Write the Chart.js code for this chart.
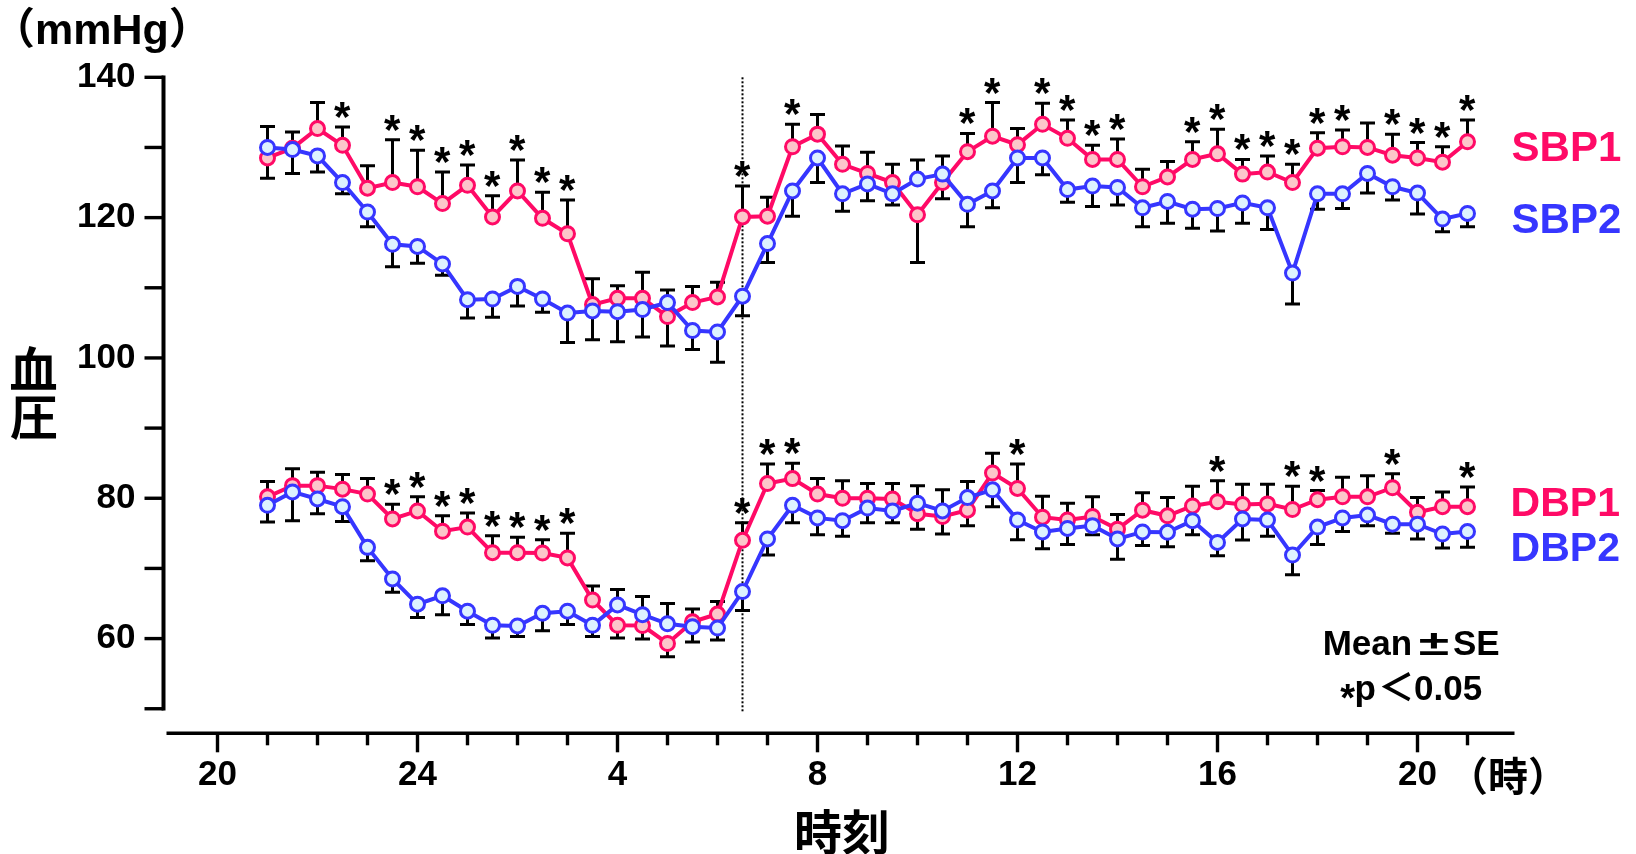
<!DOCTYPE html>
<html>
<head>
<meta charset="utf-8">
<script src="https://cdn.jsdelivr.net/npm/chart.js@4.4.0/dist/chart.umd.min.js"></script>
<style>
  html, body { margin: 0; padding: 0; background: #ffffff; }
  #wrap { width: 1636px; height: 854px; }
</style>
</head>
<body>
<div id="wrap"><canvas id="bp" width="1636" height="854"></canvas></div>
<script>
// Measurement times in hours (21 = 21:00 on day 1, 45 = 21:00 on day 2), every 30 minutes
const timePoints = [21, 21.5, 22, 22.5, 23, 23.5, 24, 24.5, 25, 25.5, 26, 26.5, 27, 27.5, 28, 28.5,
  29, 29.5, 30, 30.5, 31, 31.5, 32, 32.5, 33, 33.5, 34, 34.5, 35, 35.5, 36, 36.5,
  37, 37.5, 38, 38.5, 39, 39.5, 40, 40.5, 41, 41.5, 42, 42.5, 43, 43.5, 44, 44.5, 45];

// Systolic blood pressure (mmHg), mean and SE
const sbp1 = [128.5, 129.9, 132.7, 130.3, 124.2, 125.0, 124.4, 122.0, 124.6, 120.1, 123.8, 119.9, 117.7, 107.6, 108.5, 108.5,
  105.9, 107.9, 108.7, 120.1, 120.2, 130.1, 131.9, 127.6, 126.3, 125.0, 120.4, 125.0, 129.4, 131.6, 130.4, 133.3,
  131.3, 128.3, 128.3, 124.4, 125.8, 128.3, 129.1, 126.2, 126.5, 125.0, 129.9, 130.1, 130.0, 128.9, 128.5, 127.9, 130.8];
const sbp1Se = [2.9, 2.3, 3.7, 2.6, 3.2, 6.1, 5.2, 4.5, 2.9, 3.0, 4.4, 3.7, 4.8, 3.7, 1.8, 3.7,
  4.2, 2.3, 2.1, 4.4, 2.7, 3.2, 2.8, 2.6, 3.0, 2.6, 6.8, 2.3, 2.6, 4.8, 2.3, 3.0,
  2.6, 2.0, 2.9, 2.5, 2.2, 2.5, 3.5, 2.1, 2.3, 2.6, 2.2, 2.4, 3.5, 3.0, 2.2, 2.2, 3.1];
const sbp2 = [130.0, 129.7, 128.8, 125.0, 120.8, 116.2, 115.9, 113.4, 108.3, 108.4, 110.2, 108.4, 106.4, 106.7, 106.6, 106.9,
  107.9, 103.9, 103.7, 108.8, 116.3, 123.8, 128.5, 123.4, 124.8, 123.4, 125.5, 126.2, 121.9, 123.8, 128.5, 128.5,
  124.0, 124.5, 124.3, 121.4, 122.3, 121.2, 121.3, 122.1, 121.4, 112.1, 123.4, 123.4, 126.3, 124.4, 123.5, 119.8, 120.6];
const sbp2Se = [3.0, 3.4, 2.3, 1.6, 2.1, 3.2, 2.4, 1.6, 2.6, 2.6, 2.8, 1.9, 4.2, 4.1, 4.3, 3.9,
  1.8, 2.7, 4.3, 2.8, 2.7, 3.6, 3.5, 2.5, 2.4, 1.6, 2.7, 2.6, 3.2, 2.4, 3.5, 2.4,
  1.8, 2.9, 2.5, 2.7, 3.1, 2.7, 3.2, 2.9, 3.1, 4.4, 2.2, 2.1, 2.8, 1.9, 3.0, 1.8, 1.9];

// Diastolic blood pressure (mmHg), mean and SE
const dbp1 = [80.2, 81.8, 81.8, 81.3, 80.6, 77.05, 78.2, 75.3, 75.9, 72.25, 72.25, 72.2, 71.5, 65.5, 61.9, 61.85,
  59.3, 62.4, 63.5, 74.0, 82.1, 82.8, 80.6, 80.0, 80.0, 79.9, 77.8, 77.4, 78.3, 83.6, 81.4, 77.3,
  76.9, 77.4, 75.6, 78.3, 77.5, 78.9, 79.5, 79.1, 79.2, 78.4, 79.8, 80.2, 80.2, 81.5, 78.0, 78.8, 78.8];
const dbp1Se = [2.2, 2.4, 1.9, 2.1, 2.2, 2.1, 2.0, 2.2, 2.0, 2.4, 2.2, 1.9, 3.5, 2.0, 1.8, 1.9,
  1.9, 1.8, 1.8, 2.5, 2.8, 2.2, 2.2, 2.5, 2.1, 2.2, 2.2, 2.5, 2.2, 2.8, 3.5, 3.0,
  2.4, 2.8, 2.1, 2.5, 2.6, 2.8, 3.0, 2.9, 2.8, 3.3, 1.3, 2.8, 3.0, 2.0, 2.1, 2.1, 2.8];
const dbp2 = [79.0, 80.9, 79.9, 78.8, 73.0, 68.5, 64.9, 66.1, 63.9, 61.9, 61.8, 63.6, 63.9, 61.9, 64.8, 63.4,
  62.1, 61.7, 61.5, 66.7, 74.2, 79.0, 77.2, 76.8, 78.6, 78.2, 79.3, 78.2, 80.1, 81.2, 76.9, 75.2,
  75.7, 76.1, 74.2, 75.2, 75.15, 76.8, 73.7, 77.05, 76.9, 71.9, 75.9, 77.2, 77.6, 76.3, 76.3, 74.9, 75.25];
const dbp2Se = [2.4, 4.1, 2.1, 2.1, 1.9, 1.9, 1.9, 2.7, 1.9, 1.8, 1.5, 2.5, 1.9, 1.6, 2.2, 2.6,
  2.9, 2.2, 1.7, 2.7, 2.3, 2.5, 2.4, 2.2, 2.1, 1.7, 2.5, 3.0, 2.3, 2.4, 2.8, 2.4,
  2.3, 1.3, 2.9, 1.95, 2.05, 2.0, 1.9, 3.0, 2.3, 2.8, 2.5, 1.95, 1.5, 1.3, 2.1, 2.0, 2.25];

// Times with a significant difference (p < 0.05)
const sbpSigTimes = [22.5, 23.5, 24, 24.5, 25, 25.5, 26, 26.5, 27, 30.5, 31.5, 35, 35.5, 36.5, 37, 37.5,
  38, 39.5, 40, 40.5, 41, 41.5, 42, 42.5, 43.5, 44, 44.5, 45];
const dbpSigTimes = [23.5, 24, 24.5, 25, 25.5, 26, 26.5, 27, 30.5, 31, 31.5, 36, 40, 41.5, 42, 43.5, 45];

// Axis ticks
const xTickValues = [20, 24, 28, 32, 36, 40, 44];
const xTickLabels = ['20', '24', '4', '8', '12', '16', '20'];
const yTickValues = [60, 80, 100, 120, 140];
const yTickLabels = ['60', '80', '100', '120', '140'];
const wakeTime = 30.5;

const PINK = '#FF0A66';
const PINK_FILL = '#FCC6CA';
const BLUE = '#3636FF';
const BLUE_FILL = '#DDF2FF';
const LATIN = "'Liberation Sans', Arial, sans-serif";
const CJK = "'Noto Sans CJK JP', sans-serif";
const MIXED = "'Liberation Sans', 'Noto Sans CJK JP', sans-serif";

function toPoints(values) {
  return values.map((v, i) => ({ x: timePoints[i], y: v }));
}

function lineSet(label, values, color, fill, order) {
  return {
    label, data: toPoints(values), order,
    borderColor: color, borderWidth: 4,
    pointRadius: 7, pointBorderWidth: 3,
    pointBackgroundColor: fill, pointBorderColor: color,
    tension: 0, fill: false
  };
}

// Draw text so that its ink box is aligned at x and vertically centred on cy
function inkText(ctx, text, font, color, x, cy, align) {
  ctx.save();
  ctx.font = font; ctx.fillStyle = color;
  ctx.textAlign = 'left'; ctx.textBaseline = 'alphabetic';
  const m = ctx.measureText(text);
  const w = m.actualBoundingBoxLeft + m.actualBoundingBoxRight;
  let left = x;
  if (align === 'center') left = x - w / 2;
  else if (align === 'right') left = x - w;
  ctx.fillText(text, left + m.actualBoundingBoxLeft, cy + (m.actualBoundingBoxAscent - m.actualBoundingBoxDescent) / 2);
  ctx.restore();
}

// Draw text on a given baseline with its ink starting at x
function baseText(ctx, text, font, color, x, baseline) {
  ctx.save();
  ctx.font = font; ctx.fillStyle = color;
  ctx.textAlign = 'left'; ctx.textBaseline = 'alphabetic';
  const m = ctx.measureText(text);
  ctx.fillText(text, x + m.actualBoundingBoxLeft, baseline);
  ctx.restore();
}

// Draw a glyph stretched to fill an ink box
function boxText(ctx, text, font, color, left, top, width, height) {
  ctx.save();
  ctx.font = font; ctx.fillStyle = color;
  ctx.textAlign = 'left'; ctx.textBaseline = 'alphabetic';
  const m = ctx.measureText(text);
  const w = m.actualBoundingBoxLeft + m.actualBoundingBoxRight;
  const h = m.actualBoundingBoxAscent + m.actualBoundingBoxDescent;
  ctx.translate(left, top);
  ctx.scale(width / w, height / h);
  ctx.fillText(text, m.actualBoundingBoxLeft, m.actualBoundingBoxAscent);
  ctx.restore();
}

// Axes, SE bars, significance marks and the wake-up line, drawn under the series
const underlayPlugin = {
  id: 'underlay',
  beforeDatasetsDraw(chart) {
    const ctx = chart.ctx;
    const xs = chart.scales.x, ys = chart.scales.y;
    const area = chart.chartArea;
    ctx.save();
    ctx.strokeStyle = '#000'; ctx.lineCap = 'butt';

    // y axis line and ticks
    const axisX = area.left - 4;
    ctx.lineWidth = 4;
    ctx.beginPath();
    ctx.moveTo(axisX, ys.getPixelForValue(140) - 1.7);
    ctx.lineTo(axisX, ys.getPixelForValue(50) + 1.7);
    ctx.stroke();
    ctx.lineWidth = 3.4;
    for (let v = 50; v <= 140; v += 10) {
      const y = ys.getPixelForValue(v);
      ctx.beginPath(); ctx.moveTo(axisX - 19, y); ctx.lineTo(axisX, y); ctx.stroke();
    }

    // x axis line and hourly ticks
    const axisY = area.bottom;
    ctx.lineWidth = 3.4;
    ctx.beginPath();
    ctx.moveTo(xs.getPixelForValue(19) - 1, axisY);
    ctx.lineTo(xs.getPixelForValue(46) - 3, axisY);
    ctx.stroke();
    for (let h = 20; h <= 45; h++) {
      const x = xs.getPixelForValue(h);
      const len = xTickValues.includes(h) ? 19 : 12;
      ctx.beginPath(); ctx.moveTo(x, axisY); ctx.lineTo(x, axisY + len); ctx.stroke();
    }

    // wake-up line
    ctx.lineWidth = 2;
    ctx.setLineDash([2, 2]);
    const wx = xs.getPixelForValue(wakeTime);
    ctx.beginPath();
    ctx.moveTo(wx, ys.getPixelForValue(140));
    ctx.lineTo(wx, ys.getPixelForValue(49.4));
    ctx.stroke();
    ctx.setLineDash([]);

    // SE bars: upper series points up, lower series points down
    const pairs = [
      [sbp1, sbp1Se, sbp2, sbp2Se, sbpSigTimes],
      [dbp1, dbp1Se, dbp2, dbp2Se, dbpSigTimes]
    ];
    ctx.lineWidth = 3;
    const bar = (x, from, to) => {
      const y0 = ys.getPixelForValue(from), y1 = ys.getPixelForValue(to);
      ctx.beginPath();
      ctx.moveTo(x, y0); ctx.lineTo(x, y1);
      ctx.moveTo(x - 7.5, y1); ctx.lineTo(x + 7.5, y1);
      ctx.stroke();
    };
    pairs.forEach(([a, aSe, b, bSe, sig]) => {
      timePoints.forEach((t, i) => {
        const x = xs.getPixelForValue(t);
        const aUp = a[i] >= b[i];
        if (aUp) { bar(x, a[i], a[i] + aSe[i]); bar(x, b[i], b[i] - bSe[i]); }
        else { bar(x, b[i], b[i] + bSe[i]); bar(x, a[i], a[i] - aSe[i]); }
      });
      sig.forEach(t => {
        const i = timePoints.indexOf(t);
        const top = a[i] >= b[i] ? a[i] + aSe[i] : b[i] + bSe[i];
        const x = xs.getPixelForValue(t);
        inkText(ctx, '*', 'bold 42px ' + LATIN, '#000', x, ys.getPixelForValue(top) - 17, 'center');
      });
    });
    ctx.restore();
  },
  afterDraw(chart) {
    const ctx = chart.ctx;
    // unit and axis titles
    ctx.save();
    ctx.font = 'bold 43px ' + MIXED;
    ctx.fillStyle = '#000';
    ctx.textBaseline = 'alphabetic';
    const unit = '（mmHg）';
    const um = ctx.measureText(unit);
    ctx.fillText(unit, 20 + um.actualBoundingBoxLeft, 44);
    ctx.restore();

    inkText(ctx, '血', 'bold 48px ' + CJK, '#000', 33.5, 368, 'center');
    inkText(ctx, '圧', 'bold 48px ' + CJK, '#000', 33.5, 418, 'center');
    inkText(ctx, '時刻', 'bold 48px ' + CJK, '#000', 842, 831, 'center');
    inkText(ctx, '（時）', 'bold 40px ' + CJK, '#000', 1508, 775, 'center');

    // series labels
    inkText(ctx, 'SBP1', 'bold 42px ' + LATIN, PINK, 1512.6, 146.7, 'left');
    inkText(ctx, 'SBP2', 'bold 42px ' + LATIN, BLUE, 1512.6, 218, 'left');
    inkText(ctx, 'DBP1', 'bold 41px ' + LATIN, PINK, 1512.6, 502, 'left');
    inkText(ctx, 'DBP2', 'bold 41px ' + LATIN, BLUE, 1512.6, 546.7, 'left');

    // notes
    const f35 = 'bold 35px ' + LATIN;
    baseText(ctx, 'Mean', f35, '#000', 1324.7, 655);
    boxText(ctx, '±', f35, '#000', 1418.7, 633.3, 30, 21.7);
    baseText(ctx, 'SE', f35, '#000', 1454, 655);
    inkText(ctx, '*', 'bold 38px ' + LATIN, '#000', 1347.7, 691, 'center');
    baseText(ctx, 'p', f35, '#000', 1356.6, 700);
    boxText(ctx, '＜', 'bold 35px ' + CJK, '#000', 1381.4, 671.7, 30, 30);
    baseText(ctx, '0.05', f35, '#000', 1415, 700);
  }
};

const tickFont = { family: 'Liberation Sans', size: 35, weight: 'bold' };

new Chart(document.getElementById('bp'), {
  type: 'line',
  data: {
    datasets: [
      lineSet('SBP1', sbp1, PINK, PINK_FILL, 2),
      lineSet('SBP2', sbp2, BLUE, BLUE_FILL, 1),
      lineSet('DBP1', dbp1, PINK, PINK_FILL, 2),
      lineSet('DBP2', dbp2, BLUE, BLUE_FILL, 1)
    ]
  },
  options: {
    responsive: false,
    animation: false,
    devicePixelRatio: 1,
    layout: { padding: { left: 67.5, top: 77.3, right: 118.5, bottom: 57.7 } },
    plugins: { legend: { display: false }, tooltip: { enabled: false } },
    scales: {
      x: {
        type: 'linear', min: 19, max: 46,
        grid: { display: false, drawTicks: false }, border: { display: false },
        afterBuildTicks: s => { s.ticks = xTickValues.map(v => ({ value: v })); },
        afterFit: s => { s.height = 63; },
        ticks: {
          autoSkip: false, maxRotation: 0, padding: 21, color: '#000', font: tickFont,
          callback: v => xTickLabels[xTickValues.indexOf(v)] ?? ''
        }
      },
      y: {
        type: 'linear', min: 46.5, max: 140,
        grid: { display: false, drawTicks: false }, border: { display: false },
        afterBuildTicks: s => { s.ticks = yTickValues.map(v => ({ value: v })); },
        afterFit: s => { s.width = 100; },
        ticks: {
          autoSkip: false, padding: 32, color: '#000', font: tickFont,
          callback: v => yTickLabels[yTickValues.indexOf(v)] ?? ''
        }
      }
    }
  },
  plugins: [underlayPlugin]
});
</script>
</body>
</html>
